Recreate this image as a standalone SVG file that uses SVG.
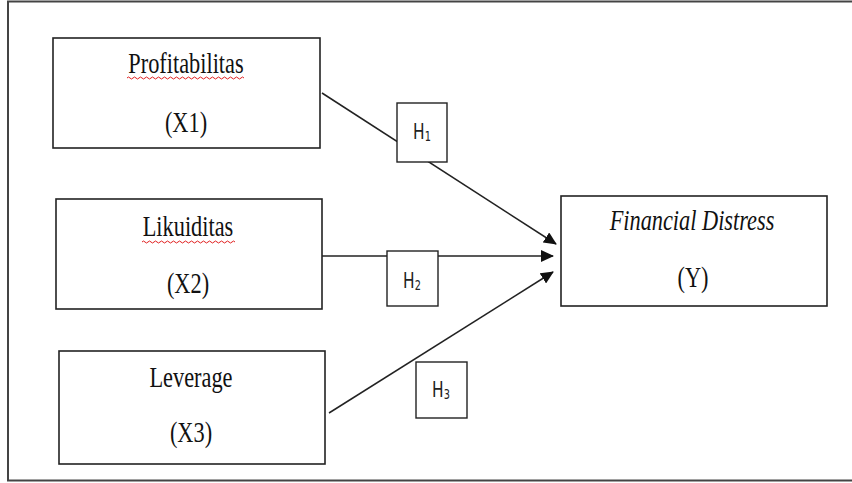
<svg xmlns="http://www.w3.org/2000/svg" width="852" height="483" viewBox="0 0 852 483">
<defs>
<style>
.box{fill:#fff;stroke:#222;stroke-width:1.6}
.hbox{fill:#fff;stroke:#222;stroke-width:1.4}
.edge{fill:none;stroke:#222;stroke-width:1.5}
.t{font-family:"Liberation Serif","Times New Roman",serif;font-size:29px;fill:#111;text-anchor:middle}
.ti{font-style:italic}
.h{font-family:"DejaVu Sans","Liberation Sans",sans-serif;font-size:22px;fill:#222;text-anchor:middle}
.sub{font-size:14px}
.wave{fill:none;stroke:#e02020;stroke-width:1}
</style>
<marker id="arr" viewBox="0 0 13 12" refX="12" refY="6" markerWidth="13" markerHeight="12" markerUnits="userSpaceOnUse" orient="auto">
<path d="M0,0 L13,6 L0,12 z" fill="#111"/>
</marker>
</defs>
<rect x="0" y="0" width="852" height="483" fill="#fff"/>
<rect id="frame" x="8" y="1.5" width="852" height="479" fill="none" stroke="#444" stroke-width="2"/>
<g id="connectors">
<line class="edge" x1="322" y1="93" x2="556" y2="244" marker-end="url(#arr)"/>
<line class="edge" x1="322" y1="256" x2="553" y2="256" marker-end="url(#arr)"/>
<line class="edge" x1="329" y1="413" x2="553" y2="272" marker-end="url(#arr)"/>
</g>
<g id="node-x1">
<rect class="box" x="53" y="38" width="267" height="110"/>
<text class="t" transform="matrix(0.77 0 0 1 186 73)">Profitabilitas</text>
<path class="wave" d="M127,78 q1.5,-2 3,0 t3,0 t3,0 t3,0 t3,0 t3,0 t3,0 t3,0 t3,0 t3,0 t3,0 t3,0 t3,0 t3,0 t3,0 t3,0 t3,0 t3,0 t3,0 t3,0 t3,0 t3,0 t3,0 t3,0 t3,0 t3,0 t3,0 t3,0 t3,0 t3,0 t3,0 t3,0 t3,0 t3,0 t3,0 t3,0 t3,0 t3,0 t3,0"/>
<text class="t" transform="matrix(0.77 0 0 1 186 132)">(X1)</text>
</g>
<g id="node-x2">
<rect class="box" x="56" y="199" width="266" height="110"/>
<text class="t" transform="matrix(0.77 0 0 1 188 236)">Likuiditas</text>
<path class="wave" d="M142,242 q1.5,-2 3,0 t3,0 t3,0 t3,0 t3,0 t3,0 t3,0 t3,0 t3,0 t3,0 t3,0 t3,0 t3,0 t3,0 t3,0 t3,0 t3,0 t3,0 t3,0 t3,0 t3,0 t3,0 t3,0 t3,0 t3,0 t3,0 t3,0 t3,0 t3,0 t3,0 t3,0"/>
<text class="t" transform="matrix(0.77 0 0 1 188 293)">(X2)</text>
</g>
<g id="node-x3">
<rect class="box" x="59" y="351" width="266" height="113"/>
<text class="t" transform="matrix(0.77 0 0 1 191 387)">Leverage</text>
<text class="t" transform="matrix(0.77 0 0 1 191 442)">(X3)</text>
</g>
<g id="node-y">
<rect class="box" x="561" y="196" width="266" height="110"/>
<text class="t ti" transform="matrix(0.77 0 0 1 692 230)">Financial Distress</text>
<text class="t" transform="matrix(0.77 0 0 1 693 287)">(Y)</text>
</g>
<g id="node-h1">
<rect class="hbox" x="397" y="103" width="50" height="59"/>
<text class="h" transform="matrix(0.7 0 0 1 422 139)">H<tspan class="sub" dy="2">1</tspan></text>
</g>
<g id="node-h2">
<rect class="hbox" x="387" y="251" width="51" height="55"/>
<text class="h" transform="matrix(0.7 0 0 1 412 288)">H<tspan class="sub" dy="2">2</tspan></text>
</g>
<g id="node-h3">
<rect class="hbox" x="416" y="362" width="51" height="56"/>
<text class="h" transform="matrix(0.7 0 0 1 441 397)">H<tspan class="sub" dy="2">3</tspan></text>
</g>
</svg>
